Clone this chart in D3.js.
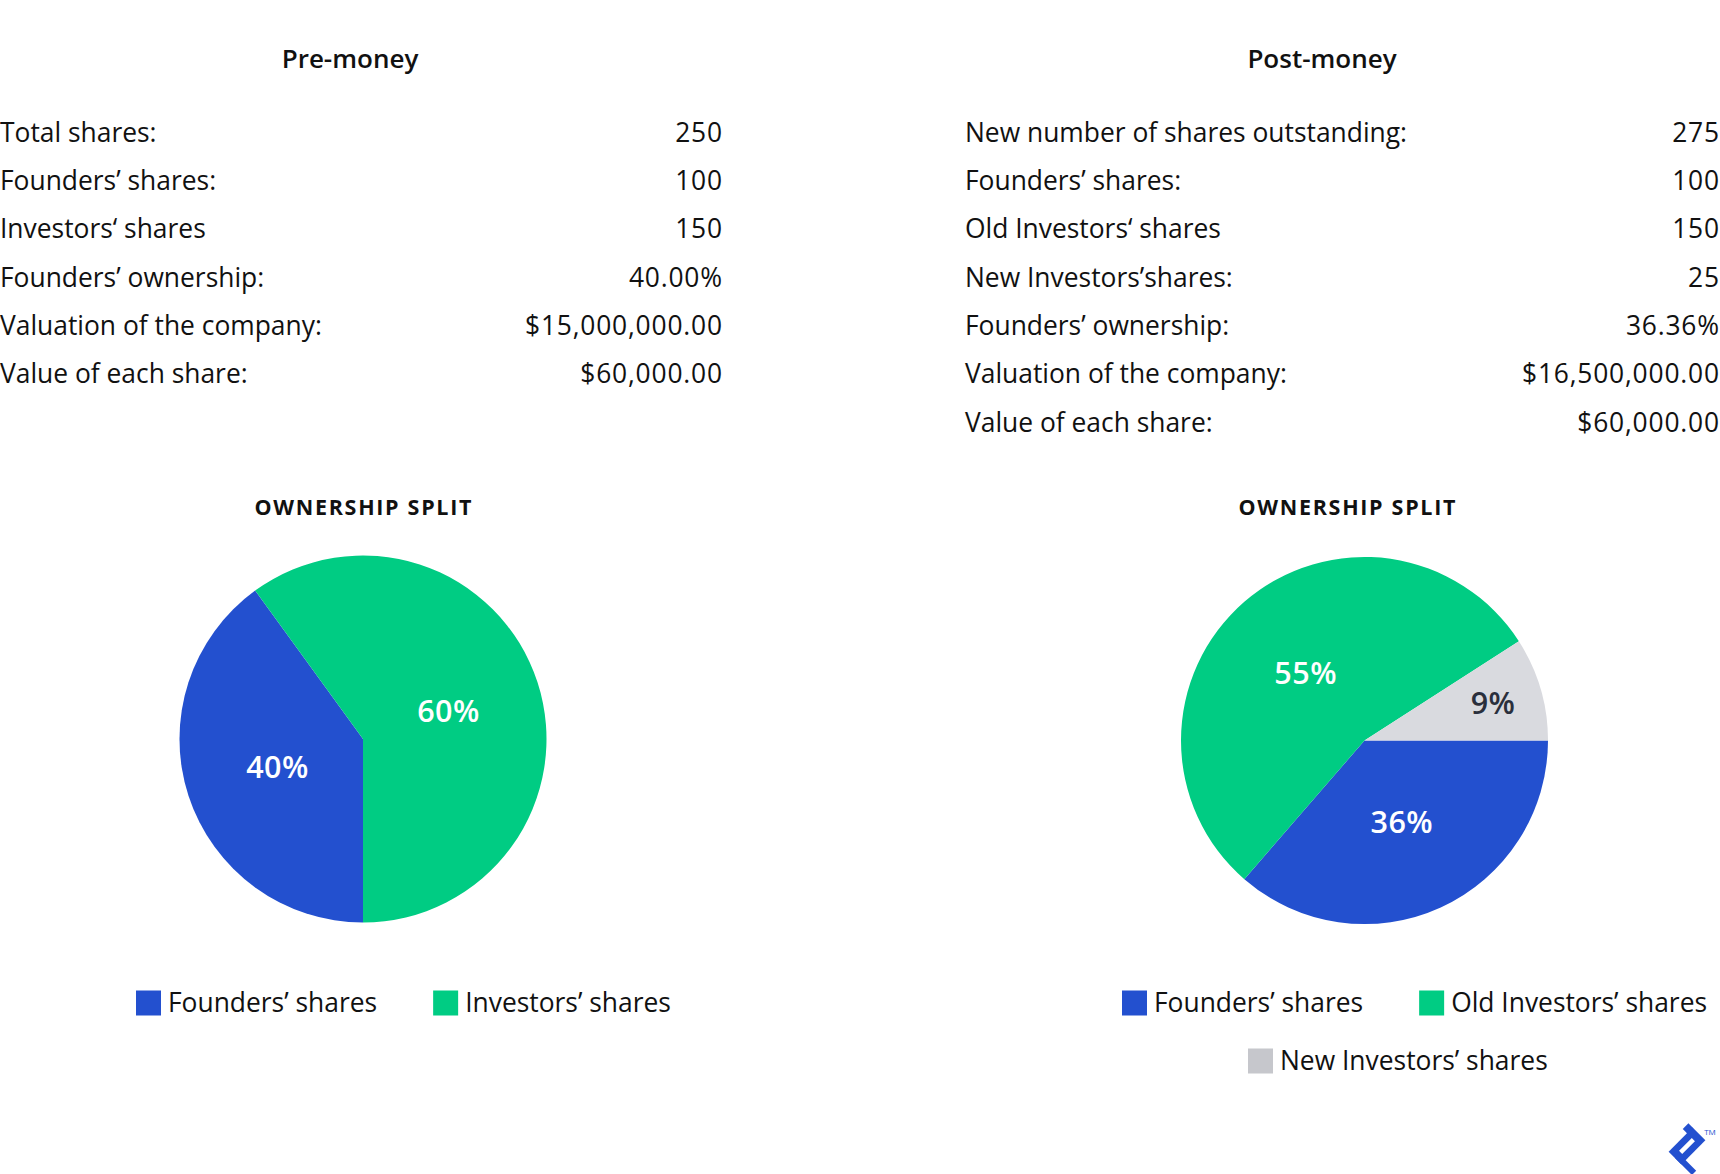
<!DOCTYPE html>
<html>
<head>
<meta charset="utf-8">
<script src="https://cdn.jsdelivr.net/npm/d3@7"></script>
<style>
  html, body { margin: 0; padding: 0; background: #ffffff; }
  svg { display: block; font-family: "Open Sans", "Noto Sans", sans-serif; }
</style>
</head>
<body>
<svg id="chart" width="1720" height="1174"></svg>
<script>
// ---------- DATA ----------
const preTitle = "Pre-money";
const postTitle = "Post-money";
const splitTitle = "OWNERSHIP SPLIT";

const preRowLabels = ["Total shares:", "Founders’ shares:", "Investors‘ shares", "Founders’ ownership:", "Valuation of the company:", "Value of each share:"];
const preRowValues = ["250", "100", "150", "40.00%", "$15,000,000.00", "$60,000.00"];

const postRowLabels = ["New number of shares outstanding:", "Founders’ shares:", "Old Investors‘ shares", "New Investors’shares:", "Founders’ ownership:", "Valuation of the company:", "Value of each share:"];
const postRowValues = ["275", "100", "150", "25", "36.36%", "$16,500,000.00", "$60,000.00"];

const preCategories = ["Founders’ shares", "Investors’ shares"];
const preShares = [100, 150];
const postCategories = ["Founders’ shares", "Old Investors’ shares", "New Investors’ shares"];
const postShares = [100, 150, 25];

const sliceColors = { "Founders’ shares": "#2350cf", "Investors’ shares": "#00cc83", "Old Investors’ shares": "#00cc83", "New Investors’ shares": "#d9dadf" };
const legendColors = { "Founders’ shares": "#2350cf", "Investors’ shares": "#00cc83", "Old Investors’ shares": "#00cc83", "New Investors’ shares": "#c6c7cc" };
const labelColors = { "New Investors’ shares": "#2a2f3c" };

// ---------- DRAW ----------
const svg = d3.select("#chart");
const FONT_ROW = 26.4;
const VAL_LS = 0.8;

function drawTable(labels, values, x0, x1, y0, title, titleX) {
  const g = svg.append("g");
  g.append("text")
    .attr("x", titleX).attr("y", 59).attr("dy", "0.35em")
    .attr("text-anchor", "middle")
    .attr("font-size", 26).attr("font-weight", 600).attr("fill", "#111")
    .text(title);
  const y = d3.scaleLinear().domain([0, 1]).range([y0, y0 + 48.26]);
  g.selectAll("text.lab").data(labels).join("text")
    .attr("class", "lab")
    .attr("x", x0).attr("y", (d, i) => y(i)).attr("dy", "0.35em")
    .attr("font-size", FONT_ROW).attr("fill", "#111")
    .text(d => d);
  g.selectAll("text.val").data(values).join("text")
    .attr("class", "val")
    .attr("x", x1 + VAL_LS).attr("y", (d, i) => y(i)).attr("dy", "0.35em")
    .attr("text-anchor", "end")
    .attr("letter-spacing", VAL_LS)
    .attr("font-size", FONT_ROW).attr("fill", "#111")
    .text(d => d);
}

drawTable(preRowLabels, preRowValues, 0, 722, 132.7, preTitle, 350);
drawTable(postRowLabels, postRowValues, 965, 1719, 132.7, postTitle, 1322);

function drawPie(categories, shares, cx, cy, r, startAngle, titleX) {
  const g = svg.append("g");
  g.append("text")
    .attr("x", titleX + 0.85).attr("y", 507).attr("dy", "0.35em")
    .attr("text-anchor", "middle")
    .attr("font-size", 21.5).attr("font-weight", 700)
    .attr("letter-spacing", 1.7).attr("fill", "#111")
    .text(splitTitle);

  const data = categories.map((c, i) => ({ cat: c, v: shares[i] }));
  const total = d3.sum(shares);
  const pie = d3.pie().value(d => d.v).sort(null)
    .startAngle(startAngle).endAngle(startAngle + 2 * Math.PI);
  const arcs = pie(data);
  const arc = d3.arc().innerRadius(0).outerRadius(r);
  const pg = g.append("g").attr("transform", `translate(${cx},${cy})`);
  pg.selectAll("path").data(arcs).join("path")
    .attr("d", arc)
    .attr("fill", d => sliceColors[d.data.cat]);
  pg.selectAll("text").data(arcs).join("text")
    .attr("transform", d => {
      const frac = d.data.v / total;
      const lr = frac < 0.15 ? r * 0.73 : r * 0.49;
      const a = (d.startAngle + d.endAngle) / 2;
      return `translate(${lr * Math.sin(a)},${-lr * Math.cos(a)})`;
    })
    .attr("text-anchor", "middle").attr("dy", "0.36em")
    .attr("font-size", 30.5).attr("font-weight", 600)
    .attr("letter-spacing", 0.5)
    .attr("fill", d => labelColors[d.data.cat] || "#ffffff")
    .text(d => Math.round(d.data.v / total * 100) + "%");
}

drawPie(preCategories, preShares, 363, 739, 183.5, Math.PI, 363);
drawPie(postCategories, postShares, 1364.5, 740.5, 183.5, Math.PI / 2, 1347);

function drawLegendRow(items, x, yc) {
  const g = svg.append("g");
  let cx = x;
  items.forEach(cat => {
    g.append("rect")
      .attr("x", cx).attr("y", yc - 12.5).attr("width", 25).attr("height", 25)
      .attr("fill", legendColors[cat]);
    const t = g.append("text")
      .attr("x", cx + 32).attr("y", yc).attr("dy", "0.35em")
      .attr("font-size", FONT_ROW).attr("fill", "#111")
      .text(cat);
    cx += 32 + t.node().getComputedTextLength() + 56;
  });
}

drawLegendRow(preCategories, 136, 1003);
drawLegendRow(postCategories.slice(0, 2), 1122, 1003);
drawLegendRow(postCategories.slice(2), 1248, 1061);

// logo mark
const logo = svg.append("g").attr("transform", "translate(1687,1146) rotate(-45)");
logo.append("rect").attr("x", -17).attr("y", -9).attr("width", 34).attr("height", 18).attr("fill", "#2350cf");
logo.append("rect").attr("x", -9).attr("y", -2.2).attr("width", 18).attr("height", 4.4).attr("fill", "#ffffff");
logo.append("rect").attr("x", -17).attr("y", 0).attr("width", 6).attr("height", 24).attr("fill", "#2350cf");
logo.append("rect").attr("x", 9).attr("y", -15).attr("width", 8).attr("height", 7).attr("fill", "#2350cf");
svg.append("text").attr("x", 1710).attr("y", 1135).attr("text-anchor", "middle")
  .attr("font-size", 8).attr("fill", "#2350cf").text("TM");
</script>
</body>
</html>
